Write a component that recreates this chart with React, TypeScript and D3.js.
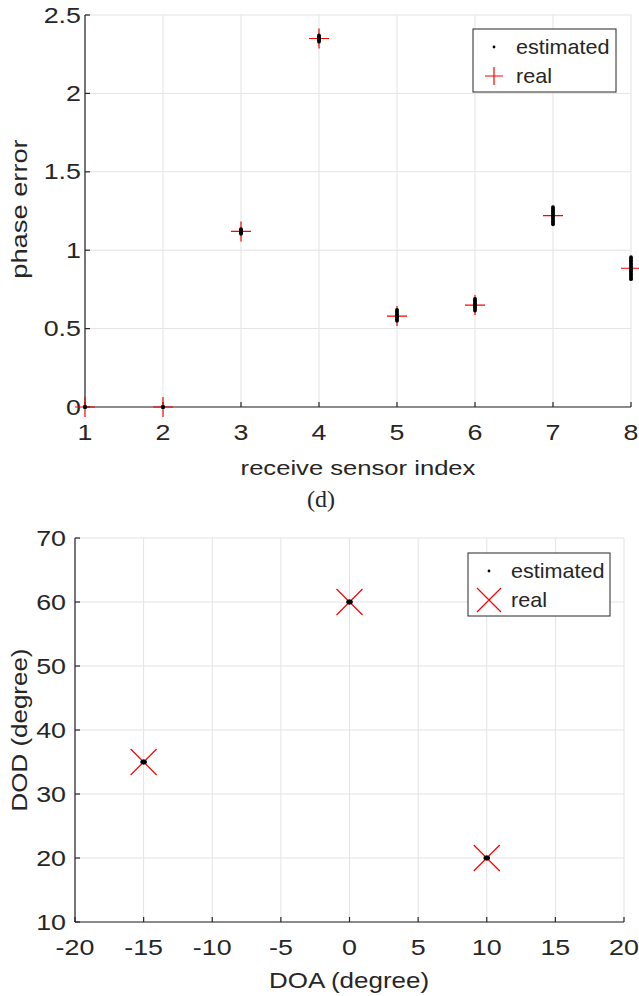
import * as d3 from "d3";
import { useEffect, useRef } from "react";

// phase error chart (top)
const sensors = [1, 2, 3, 4, 5, 6, 7, 8];
const realPhase = [0, 0, 1.12, 2.35, 0.58, 0.65, 1.22, 0.885];
const estPhase = [
  [0, 0, 0],
  [0, 0, 0],
  [1.105, 1.11, 1.115, 1.12, 1.125, 1.13, 1.135],
  [2.33, 2.34, 2.345, 2.35, 2.355, 2.36, 2.37],
  [0.55, 0.56, 0.57, 0.575, 0.58, 0.59, 0.6, 0.61, 0.62],
  [0.615, 0.625, 0.635, 0.645, 0.65, 0.66, 0.67, 0.68, 0.69],
  [1.165, 1.175, 1.185, 1.195, 1.205, 1.215, 1.225, 1.235, 1.245, 1.255, 1.265, 1.275],
  [0.815, 0.825, 0.835, 0.845, 0.855, 0.865, 0.875, 0.885, 0.895, 0.905, 0.915, 0.925, 0.935, 0.945, 0.955],
];
const phaseTicks = [0, 0.5, 1, 1.5, 2, 2.5];

// DOA / DOD chart (bottom)
const realDOA = [-15, 0, 10];
const realDOD = [35, 60, 20];
const estDOA = [-15.1, -15, -14.9, -15, -0.1, 0, 0.1, 0, 9.9, 10, 10.1, 10];
const estDOD = [35, 35.1, 35, 34.9, 60, 60.1, 60, 59.9, 20, 20.1, 20, 19.9];
const doaTicks = [-20, -15, -10, -5, 0, 5, 10, 15, 20];
const dodTicks = [10, 20, 30, 40, 50, 60, 70];

const legendLabels = ["estimated", "real"];

const FONT = "'Liberation Sans', Arial, Helvetica, sans-serif";
const INK = "#262626";
const GRID = "#e3e3e3";
const RED = "#ff0000";

export default function App() {
  const ref = useRef<SVGSVGElement>(null);

  useEffect(() => {
    if (!ref.current) return;
    const svg = d3.select(ref.current);
    svg.selectAll("*").remove();

    const label = (
      g: any, x: number, y: number, str: string,
      size: number, anchor: string, sx: number, rot = 0, base = "central", family = FONT
    ) =>
      g.append("text")
        .attr("transform", `translate(${x},${y}) rotate(${rot}) scale(${sx},1)`)
        .attr("text-anchor", anchor)
        .attr("dominant-baseline", base)
        .attr("font-family", family)
        .attr("font-size", size)
        .attr("fill", INK)
        .text(str);

    const frame = (g: any, x: any, y: any, xt: number[], yt: number[], yLabelRight: number) => {
      const [x0, x1] = x.range();
      const [y0, y1] = y.range();
      // grid
      g.selectAll(".gx").data(xt).enter().append("line")
        .attr("x1", (d: number) => x(d)).attr("x2", (d: number) => x(d))
        .attr("y1", y0).attr("y2", y1)
        .attr("stroke", GRID).attr("stroke-width", 1);
      g.selectAll(".gy").data(yt).enter().append("line")
        .attr("x1", x0).attr("x2", x1)
        .attr("y1", (d: number) => y(d)).attr("y2", (d: number) => y(d))
        .attr("stroke", GRID).attr("stroke-width", 1);
      // axes
      g.append("line").attr("x1", x0).attr("x2", x1).attr("y1", y0).attr("y2", y0)
        .attr("stroke", INK).attr("stroke-width", 1.2);
      g.append("line").attr("x1", x0).attr("x2", x0).attr("y1", y0).attr("y2", y1)
        .attr("stroke", INK).attr("stroke-width", 1.2);
      // inward ticks
      xt.forEach(t => {
        g.append("line").attr("x1", x(t)).attr("x2", x(t)).attr("y1", y0).attr("y2", y0 - 5)
          .attr("stroke", INK).attr("stroke-width", 1.2);
        label(g, x(t), y0 + 25, String(t), 22, "middle", 1.22);
      });
      yt.forEach(t => {
        g.append("line").attr("x1", x0).attr("x2", x0 + 5).attr("y1", y(t)).attr("y2", y(t))
          .attr("stroke", INK).attr("stroke-width", 1.2);
        label(g, yLabelRight, y(t), String(t), 22, "end", 1.22);
      });
    };

    const plus = (g: any, cx: number, cy: number, h: number) => {
      g.append("path")
        .attr("d", `M${cx - h},${cy}H${cx + h}M${cx},${cy - h}V${cy + h}`)
        .attr("stroke", RED).attr("stroke-width", 1.2).attr("fill", "none");
    };
    const cross = (g: any, cx: number, cy: number, h: number) => {
      g.append("path")
        .attr("d", `M${cx - h},${cy - h}L${cx + h},${cy + h}M${cx - h},${cy + h}L${cx + h},${cy - h}`)
        .attr("stroke", RED).attr("stroke-width", 1.2).attr("fill", "none");
    };

    const legend = (g: any, x0: number, y0: number, x1: number, y1: number, real: (cx: number, cy: number) => void) => {
      g.append("rect").attr("x", x0).attr("y", y0).attr("width", x1 - x0).attr("height", y1 - y0)
        .attr("fill", "#fff").attr("stroke", INK).attr("stroke-width", 1);
      const mx = x0 + 21;
      const r1 = y0 + 18;
      const r2 = y0 + 47;
      g.append("circle").attr("cx", mx).attr("cy", r1).attr("r", 1.4).attr("fill", "#000");
      real(mx, r2);
      label(g, x0 + 43, r1 + 7, legendLabels[0], 20, "start", 1.08, 0, "auto");
      label(g, x0 + 43, r2 + 7, legendLabels[1], 20, "start", 1.08, 0, "auto");
    };

    // ---------- top chart ----------
    const top = svg.append("g");
    const x1s = d3.scaleLinear().domain([1, 8]).range([85, 631]);
    const y1s = d3.scaleLinear().domain([0, 2.5]).range([407, 15]);
    frame(top, x1s, y1s, sensors, phaseTicks, 81);

    realPhase.forEach((v, i) => plus(top, x1s(sensors[i]), y1s(v), 10));
    estPhase.forEach((vals, i) => {
      top.selectAll(null).data(vals).enter().append("circle")
        .attr("cx", x1s(sensors[i]))
        .attr("cy", (d: number) => y1s(d))
        .attr("r", 1.9)
        .attr("fill", "#000");
    });

    label(top, 358, 475, "receive sensor index", 21, "middle", 1.22, 0, "auto");
    label(top, 27, 209, "phase error", 22, "middle", 1.24, -90, "auto");
    label(top, 321, 507, "(d)", 24, "middle", 1, 0, "auto", "'Liberation Serif', 'Times New Roman', serif");
    legend(top, 473, 29, 616, 92, (cx, cy) => plus(top, cx, cy, 9));

    // ---------- bottom chart ----------
    const bot = svg.append("g");
    const x2s = d3.scaleLinear().domain([-20, 20]).range([75, 624]);
    const y2s = d3.scaleLinear().domain([10, 70]).range([922, 538]);
    frame(bot, x2s, y2s, doaTicks, dodTicks, 66);

    realDOA.forEach((v, i) => cross(bot, x2s(v), y2s(realDOD[i]), 13));
    bot.selectAll(null).data(estDOA).enter().append("circle")
      .attr("cx", (d: number) => x2s(d))
      .attr("cy", (_d: number, i: number) => y2s(estDOD[i]))
      .attr("r", 2)
      .attr("fill", "#000");

    label(bot, 349, 988, "DOA (degree)", 22, "middle", 1.18, 0, "auto");
    label(bot, 27, 730, "DOD (degree)", 22, "middle", 1.18, -90, "auto");
    legend(bot, 468, 553, 610, 616, (cx, cy) => cross(bot, cx, cy, 12));
  }, []);

  return (
    <div style={{ width: 639, height: 996 }}>
      <style>{`body{margin:0;background:#fff}`}</style>
      <svg ref={ref} width={639} height={996} style={{ display: "block" }} />
    </div>
  );
}
